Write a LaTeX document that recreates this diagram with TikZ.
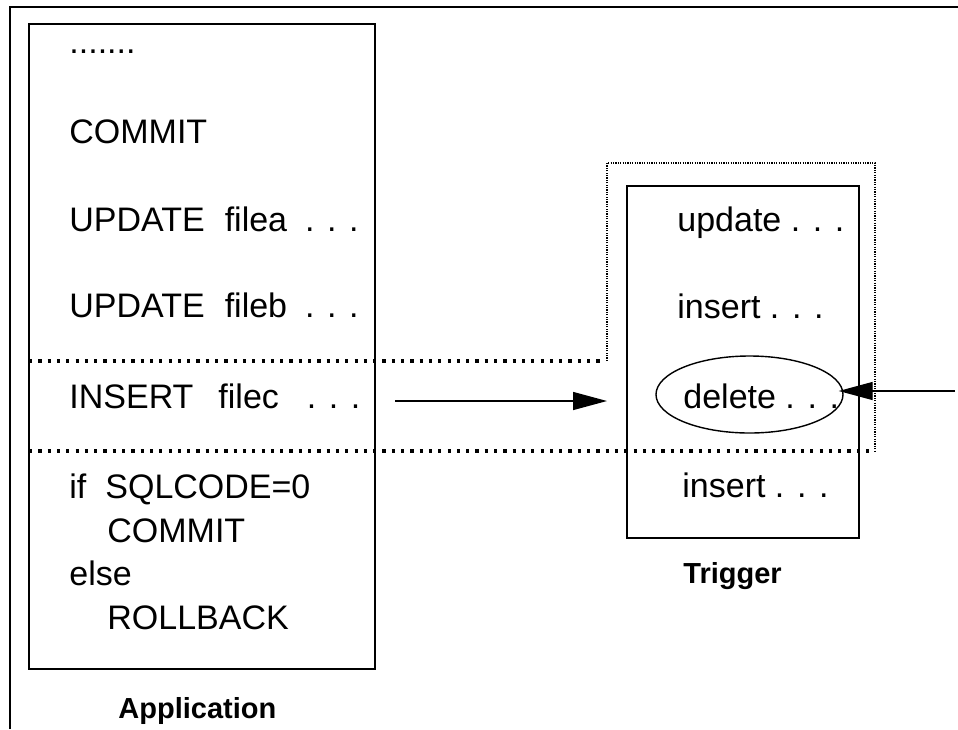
\documentclass[tikz,border=0pt]{standalone}
\usepackage{fontspec}
\setmainfont{Liberation Sans}
\usetikzlibrary{arrows.meta, positioning, shapes.geometric}

\begin{document}
\begin{tikzpicture}[
    x=0.5pt, y=-0.5pt,
    >={Triangle[length=17pt, width=9pt]},
    line join=miter,
    font=\fontsize{17}{20}\selectfont,
    txt/.style={anchor=base west, inner sep=0pt},
    caption/.style={anchor=base west, inner sep=0pt, font=\fontsize{14.5}{17}\selectfont\bfseries},
    box/.style={draw, line width=1pt},
    bigdots/.style={line width=1.6pt, dash pattern=on 1.6pt off 3.05pt},
    finedots/.style={line width=0.6pt, dash pattern=on 0.6pt off 0.6pt},
    flow/.style={->, line width=0.7pt}
]

  % ==================== ПАРАМЕТРИ ====================
  \def\xL{29}       % Ліва межа Application
  \def\xR{375}      % Права межа Application
  \def\tL{627}      % Ліва межа Trigger
  \def\tR{859}      % Права межа Trigger
  \def\rowA{231}    % Базові лінії рядків
  \def\rowB{317}
  \def\rowC{408}
  \def\rowD{498}

  \useasboundingbox (0,0) rectangle (958,729);

  % ==================== 1. РАМКА ====================
  \draw[line width=0.6pt] (10,729) -- (10,7) -- (958,7);

  % ==================== 2. APPLICATION ====================
  \draw[box] (\xL,24) rectangle (\xR,669);

  \node[txt] (dots) at (69,53) {.......};
  \node[txt] (commitA) at (69,143) {COMMIT};
  \node[txt] (upda) at (69,\rowA) {UPDATE\hspace{10pt}filea\hspace{9pt}. . .};
  \node[txt] (updb) at (69,\rowB) {UPDATE\hspace{10pt}fileb\hspace{9pt}. . .};
  \node[txt] (insc) at (69,\rowC) {INSERT\hspace{12.5pt}filec\hspace{14pt}. . .};
  \node[txt] (ifsql) at (69,\rowD) {if\hspace{9.5pt}SQLCODE=0};
  \node[txt] (commitB) at (107,542) {COMMIT};
  \node[txt] (else) at (69,585) {else};
  \node[txt] (rollback) at (107,629) {ROLLBACK};

  \node[caption] (app) at (118,718) {Application};

  % ==================== 3. TRIGGER ====================
  \draw[box] (\tL,186) rectangle (\tR,538);

  \node[txt] (upd) at (677,\rowA) {update . . .};
  \node[txt] (insA) at (677,318) {insert . . .};
  \node[txt] (delete) at (683,\rowC) {delete . . .};
  \node[txt] (insB) at (682,497) {insert . . .};

  % Виділений рядок
  \node[ellipse, draw, line width=0.7pt, inner sep=0pt,
        minimum width=93.5pt, minimum height=38.5pt] (delring) at (749.5,394.5) {};

  \node[caption] (trig) at (683,583) {Trigger};

  % ==================== 4. МЕЖІ (пунктир) ====================
  \draw[bigdots] (\xL,361) -- (605,361);
  \draw[finedots] (607,361) -- (607,163) -- (875,163) -- (875,451);
  \draw[bigdots] (\xL,451) -- (875,451);

  % ==================== 5. СТРІЛКИ ====================
  \coordinate (outA) at (395,401);
  \coordinate (outB) at (607,401);
  \draw[flow] (outA) -- (outB);

  \coordinate (inR) at (955,391);
  \draw[flow, shorten >=-2.5pt] (inR) -- (inR -| delring.east);

\end{tikzpicture}
\end{document}
